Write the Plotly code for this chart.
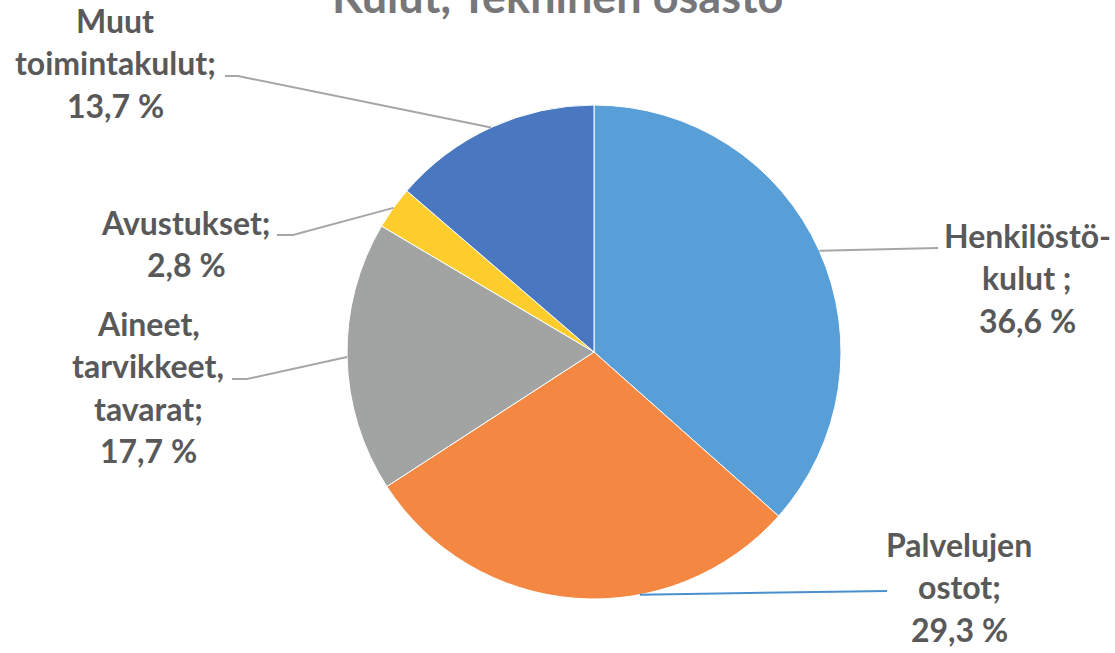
import math
import plotly.graph_objects as go

W, H = 1115, 653

# ---- data ----
categories = ["Henkilöstökulut", "Palvelujen ostot", "Aineet, tarvikkeet, tavarat",
              "Avustukset", "Muut toimintakulut"]
values = [36.6, 29.3, 17.7, 2.8, 13.7]
label_lines = [
    ["Henkilöstö-", "kulut ;", "36,6 %"],
    ["Palvelujen", "ostot;", "29,3 %"],
    ["Aineet,", "tarvikkeet,", "tavarat;", "17,7 %"],
    ["Avustukset;", "2,8 %"],
    ["Muut", "toimintakulut;", "13,7 %"],
]
title_text = "Kulut, Tekninen osasto"

# ---- styles / layout ----
colors = ["#589fd8", "#f48843", "#a2a4a4", "#fdcd2e", "#4a78c0"]
cx, cy, R = 594, 352, 247          # pie centre/radius in px
FS = 32
label_font = dict(family="Lato, Carlito, Calibri, sans-serif", size=FS, color="#595959")
line_gap = 42.5
# label block: centre x, first baseline y
label_pos = [(1027, 248), (959, 557), (148, 336), (186, 235), (115, 33)]
# leader: end points (px) toward the label, optional elbow
leader_pts = [
    [(938, 248)],
    [(887, 591)],
    [(247, 379), (232, 379)],
    [(293, 235), (277, 235)],
    [(238, 76), (225, 76)],
]
leader_angle_override = {1: 169.3}
leader_colors = ["#a6a6a6", "#4a90cf", "#a6a6a6", "#a6a6a6", "#a6a6a6"]
TFS = 45
title_baseline = 13


def px(x):
    return x / W


def py(y):
    return 1 - y / H


fig = go.Figure()
fig.add_trace(go.Pie(
    labels=categories, values=values, sort=False, direction="clockwise",
    rotation=0, textinfo="none", showlegend=False,
    marker=dict(colors=colors, line=dict(color="#ffffff", width=1)),
    domain=dict(x=[px(cx - R), px(cx + R)], y=[py(cy + R), py(cy - R)]),
))

total = sum(values)
cum = 0
shapes = []
annotations = []
for i, v in enumerate(values):
    mid = (cum + v / 2) / total * 360
    cum += v
    ang = leader_angle_override.get(i, mid)
    sx = cx + R * math.sin(math.radians(ang))
    sy = cy - R * math.cos(math.radians(ang))
    pts = [(sx, sy)] + leader_pts[i]
    path = "M " + " L ".join(f"{px(x):.5f},{py(y):.5f}" for x, y in pts)
    shapes.append(dict(type="path", path=path, xref="paper", yref="paper",
                       line=dict(color=leader_colors[i], width=2)))
    lx, ly = label_pos[i]
    for j, t in enumerate(label_lines[i]):
        base = ly + j * line_gap
        annotations.append(dict(
            text=f"<b>{t}</b>", x=px(lx), y=py(base + 0.24 * FS),
            xref="paper", yref="paper", xanchor="center", yanchor="bottom",
            showarrow=False, font=label_font, borderpad=0))

annotations.append(dict(
    text=f"<b>{title_text}</b>", x=0.5, y=py(title_baseline + 0.24 * TFS),
    xref="paper", yref="paper",
    xanchor="center", yanchor="bottom", showarrow=False, borderpad=0,
    font=dict(family="Lato, Carlito, Calibri, sans-serif", size=TFS, color="#77777a")))

fig.update_layout(
    width=W, height=H, margin=dict(l=0, r=0, t=0, b=0),
    paper_bgcolor="white", plot_bgcolor="white",
    shapes=shapes, annotations=annotations,
)
fig.write_html("out.html", config={"displayModeBar": False},
               post_script="document.body.style.margin='0';document.body.style.overflow='hidden';")
